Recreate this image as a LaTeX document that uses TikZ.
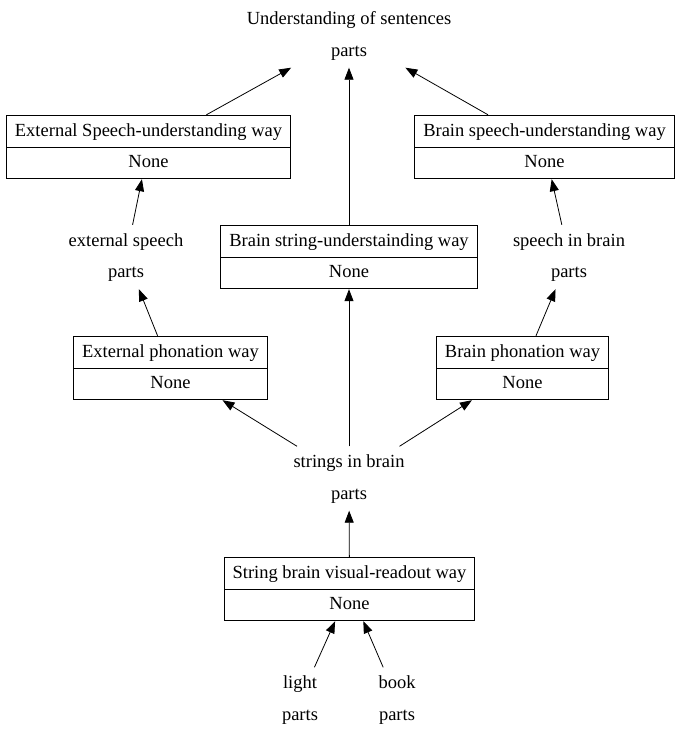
\documentclass[tikz,border=0pt]{standalone}
\usepackage{fontspec}
\setmainfont{Liberation Serif}
\usetikzlibrary{arrows.meta, shapes.multipart}
\newcommand{\partrow}[1]{\rule[-5pt]{0pt}{20pt}#1}

\begin{document}
\begin{tikzpicture}[x=1pt,y=-1pt,->,>={Triangle[length=12pt,width=9pt]},line width=0.8pt,
    font=\fontsize{18.5pt}{22pt}\selectfont]
            \tikzset{way/.style={draw, rectangle split, rectangle split parts=2, inner xsep=8.5pt, inner ysep=5.5pt}}
            \tikzset{item/.style={way, draw=none}}
            \useasboundingbox (0,0) rectangle (681,737);
            \node[item] (sent) at (349,35.5) {\partrow{Understanding of sentences}\nodepart{two}\partrow{parts}};
            \node[way] (esu) at (148.5,147) {\partrow{External Speech-understanding way}\nodepart{two}\partrow{None}};
            \node[way] (bsu) at (544.5,147) {\partrow{Brain speech-understanding way}\nodepart{two}\partrow{None}};
            \node[way] (bstr) at (349,257) {\partrow{Brain string-understainding way}\nodepart{two}\partrow{None}};
            \node[item] (ext) at (126,257) {\partrow{external speech}\nodepart{two}\partrow{parts}};
            \node[item] (sib) at (569,257) {\partrow{speech in brain}\nodepart{two}\partrow{parts}};
            \node[way] (ep) at (170.5,368) {\partrow{External phonation way}\nodepart{two}\partrow{None}};
            \node[way] (bp) at (522.5,368) {\partrow{Brain phonation way}\nodepart{two}\partrow{None}};
            \node[item] (str) at (349,478.5) {\partrow{strings in brain}\nodepart{two}\partrow{parts}};
            \node[way] (sbv) at (349.5,589) {\partrow{String brain visual-readout way}\nodepart{two}\partrow{None}};
            \node[item] (light) at (300,699.5) {\partrow{light}\nodepart{two}\partrow{parts}};
            \node[item] (book) at (397,699.5) {\partrow{book}\nodepart{two}\partrow{parts}};
            \path (esu) edge (sent);
            \path (bsu) edge (sent);
            \path (bstr) edge (sent);
            \path (ext) edge (esu);
            \path (sib) edge (bsu);
            \path (ep) edge (ext);
            \path (bp) edge (sib);
            \path (str) edge (ep);
            \path (str) edge (bp);
            \path (str) edge (bstr);
            \path (sbv) edge (str);
            \path (light) edge (sbv);
            \path (book) edge (sbv);
        \end{tikzpicture}
\end{document}
